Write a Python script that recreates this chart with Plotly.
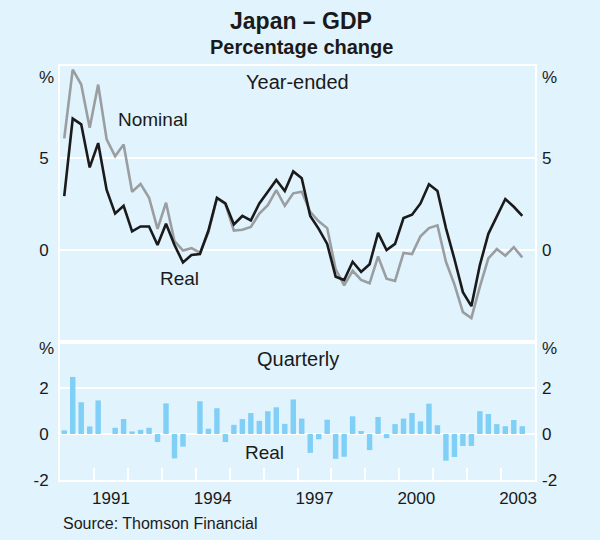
import plotly.graph_objects as go

# Quarters 1990Q1 .. 2003Q3
years = list(range(1990, 2004))
quarters = [(y, q) for y in years for q in (1, 2, 3, 4)][:55]
xq = [y + (q - 0.5) / 4 for (y, q) in quarters]

# Year-ended percentage change
real_ye = [2.93, 7.14, 6.83, 4.49, 5.81, 3.26, 1.98, 2.40, 1.01, 1.28,
           1.28, 0.27, 1.43, 0.27, -0.68, -0.27, -0.22, 1.06, 2.84, 2.53,
           1.39, 1.85, 1.61, 2.53, 3.17, 3.81, 3.21, 4.27, 3.90, 1.85,
           1.15, 0.33, -1.45, -1.63, -0.64, -1.19, -0.77, 0.93, 0.00, 0.33,
           1.74, 1.92, 2.53, 3.57, 3.21, 1.19, -0.49, -2.29, -3.05, -0.82,
           0.88, 1.85, 2.77, 2.35, 1.85]
nominal_ye = [6.07, 9.80, 8.99, 6.65, 8.99, 6.01, 5.09, 5.73, 3.17, 3.59,
              2.84, 1.15, 2.57, 0.48, -0.03, 0.10, -0.15, 0.97, 2.80, 2.50,
              1.06, 1.10, 1.25, 1.98, 2.44, 3.26, 2.40, 3.08, 3.17, 2.07,
              1.56, 1.19, -1.04, -1.92, -1.13, -1.63, -1.81, -0.35, -1.56, -1.68,
              -0.16, -0.22, 0.75, 1.19, 1.34, -0.64, -1.87, -3.38, -3.70, -1.99,
              -0.46, 0.05, -0.31, 0.15, -0.40]
# Quarterly percentage change (real)
real_q = [0.16, 2.48, 1.38, 0.33, 1.46, 0.00, 0.27, 0.65, 0.11, 0.18,
          0.27, -0.35, 1.33, -1.06, -0.55, 0.00, 1.42, 0.23, 1.12, -0.35,
          0.40, 0.65, 0.91, 0.57, 0.99, 1.16, 0.44, 1.50, 0.67, -0.82,
          -0.23, 0.62, -1.08, -0.99, 0.77, 0.13, -0.70, 0.74, -0.18, 0.43,
          0.67, 0.91, 0.55, 1.32, 0.38, -1.16, -1.00, -0.52, -0.52, 0.99,
          0.87, 0.43, 0.34, 0.61, 0.34]

year_ticks = list(range(1991, 2004))
labelled_years = [1991, 1994, 1997, 2000, 2003]
year_ticktext = [str(y) if y in labelled_years else "" for y in year_ticks]
top_ticks = [0, 5]
bot_ticks = [-2, 0, 2]
bot_ticktext = ["-2", "0", "2"]

BG = "#E1F3FC"
FONT = "Liberation Sans, Arial, sans-serif"
TXT = "#1a1a1a"

fig = go.Figure()
fig.add_trace(go.Bar(x=xq, y=real_q, width=0.16, marker=dict(color="#80CFF6", line=dict(width=0)),
                     xaxis="x2", yaxis="y2", showlegend=False))
fig.add_trace(go.Scatter(x=xq, y=nominal_ye, mode="lines", line=dict(color="#9A9EA1", width=2.6),
                         xaxis="x", yaxis="y", showlegend=False))
fig.add_trace(go.Scatter(x=xq, y=real_ye, mode="lines", line=dict(color="#1a1a1a", width=2.6),
                         xaxis="x", yaxis="y", showlegend=False))
# helper traces (invisible) so the mirrored right-hand axes get drawn
fig.add_trace(go.Scatter(x=[xq[0]], y=[0], mode="markers", marker=dict(opacity=0),
                         xaxis="x", yaxis="y3", showlegend=False, hoverinfo="skip"))
fig.add_trace(go.Scatter(x=[xq[0]], y=[0], mode="markers", marker=dict(opacity=0),
                         xaxis="x2", yaxis="y4", showlegend=False, hoverinfo="skip"))

split = (480 - 342) / 414
half_year_px = 17

frame = dict(showline=True, mirror=True, linecolor="white", linewidth=2)
fig.update_layout(
    width=600, height=540,
    margin=dict(l=60, r=65, t=66, b=60),
    paper_bgcolor=BG, plot_bgcolor=BG,
    font=dict(family=FONT, size=17, color=TXT),
    showlegend=False,
    xaxis=dict(domain=[0, 1], anchor="y", range=[1990, 2004], showticklabels=False,
               showgrid=False, zeroline=False, ticks="", **frame),
    yaxis=dict(domain=[split, 1], anchor="x", range=[-5, 10], tickvals=top_ticks,
               gridcolor="white", gridwidth=2, zeroline=False, ticks="",
               ticklabelstandoff=6, **frame),
    yaxis3=dict(overlaying="y", side="right", anchor="x", range=[-5, 10], tickvals=top_ticks,
                showgrid=False, zeroline=False, ticks="", showline=False, ticklabelstandoff=6),
    xaxis2=dict(domain=[0, 1], anchor="y2", range=[1990, 2004], tickvals=year_ticks,
                ticktext=year_ticktext, ticks="inside", ticklen=12, tickwidth=2,
                tickcolor="white", ticklabelshift=half_year_px, ticklabelstandoff=2,
                showgrid=False, zeroline=False, **frame),
    yaxis2=dict(domain=[0, split], anchor="x2", range=[-2, 4], tickvals=bot_ticks,
                ticktext=bot_ticktext, gridcolor="white", gridwidth=2, zeroline=False,
                ticks="", ticklabelstandoff=6, **frame),
    yaxis4=dict(overlaying="y2", side="right", anchor="x2", range=[-2, 4], tickvals=bot_ticks,
                ticktext=bot_ticktext, showgrid=False, zeroline=False, ticks="",
                showline=False, ticklabelstandoff=6),
)

ann = []
def add(text, x, y, xref="paper", yref="paper", size=17, bold=False, xanchor="center"):
    ann.append(dict(text=f"<b>{text}</b>" if bold else text, x=x, y=y, xref=xref, yref=yref,
                    showarrow=False, xanchor=xanchor, yanchor="middle",
                    font=dict(family=FONT, size=size, color=TXT)))

def px_x(p):
    return (p - 60) / 475
def px_y(p):
    return (480 - p) / 414

add("Japan – GDP", px_x(301), px_y(21), size=23, bold=True)
add("Percentage change", px_x(301), px_y(47), size=20, bold=True)
add("Year-ended", 1997.0, 9.15, "x", "y", size=20)
add("Quarterly", 1997.0, 3.25, "x2", "y2", size=20)
add("Nominal", 1992.74, 7.07, "x", "y", size=19)
add("Real", 1993.51, -1.55, "x", "y", size=19)
add("Real", 1996.04, -0.8, "x2", "y2", size=19)
add("%", px_x(46), px_y(77), size=17)
add("%", px_x(549), px_y(77), size=17)
add("%", px_x(46), px_y(349), size=17)
add("%", px_x(549), px_y(349), size=17)
add("Source: Thomson Financial", px_x(61), px_y(523), size=16, xanchor="left")
fig.update_layout(annotations=ann)

fig.write_html("out.html")
